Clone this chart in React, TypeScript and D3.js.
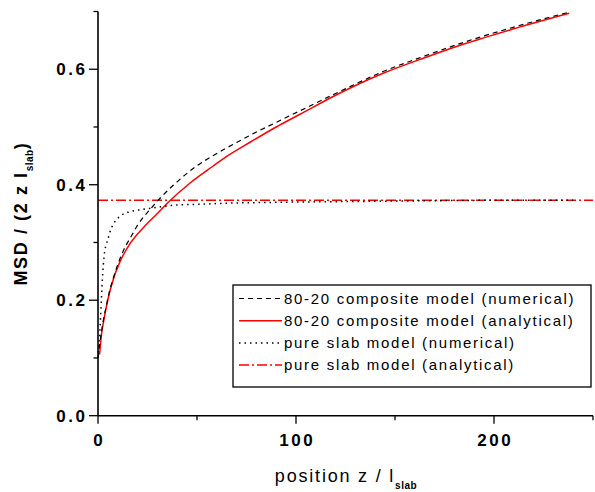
import * as d3 from "d3"

// 80-20 composite model (numerical)
const compNumZ = [0, 0.9, 2.7, 4.5, 6, 7.7, 10, 12.7, 17, 20, 26, 32, 38, 44, 50, 57, 63, 70, 77, 90, 102, 120, 144, 165, 186, 210, 238]
const compNumY = [0.1, 0.125, 0.165, 0.195, 0.218, 0.238, 0.262, 0.285, 0.312, 0.33, 0.356, 0.379, 0.399, 0.417, 0.433, 0.448, 0.46, 0.473, 0.486, 0.508, 0.528, 0.558, 0.596, 0.623, 0.648, 0.673, 0.699]

// 80-20 composite model (analytical)
const compAnaZ = [0.8, 1.2, 1.7, 2.5, 3.4, 5.1, 7.7, 11, 16, 23, 29.6, 35, 46.5, 58, 65, 77, 90, 102, 120, 144, 165, 186, 210, 238]
const compAnaY = [0.106, 0.122, 0.139, 0.157, 0.174, 0.203, 0.236, 0.266, 0.297, 0.326, 0.349, 0.368, 0.403, 0.432, 0.449, 0.474, 0.5, 0.522, 0.555, 0.593, 0.62, 0.645, 0.67, 0.697]

// pure slab model (numerical)
const slabNumZ = [0, 0.5, 0.9, 1.3, 1.7, 2.2, 2.7, 3.4, 4.2, 5.1, 6, 8, 11.8, 16, 20, 26, 32, 40, 50, 65, 80, 100, 130, 160, 200, 240]
const slabNumY = [0.1, 0.125, 0.145, 0.17, 0.2, 0.235, 0.262, 0.285, 0.297, 0.307, 0.318, 0.333, 0.347, 0.353, 0.356, 0.359, 0.362, 0.365, 0.366, 0.368, 0.369, 0.37, 0.371, 0.372, 0.373, 0.373]

// pure slab model (analytical)
const slabAnaZ = [0, 250]
const slabAnaY = [0.373, 0.373]

const xMajor = [0, 100, 200]
const xMinor = [50, 150, 250]
const yMajor = [0, 0.2, 0.4, 0.6]
const yMinor = [0.1, 0.3, 0.5, 0.7]

const legendLabels = [
    "80-20 composite model (numerical)",
    "80-20 composite model (analytical)",
    "pure slab model (numerical)",
    "pure slab model (analytical)",
]

const FONT = "'Liberation Sans', Arial, Helvetica, sans-serif"

const styles = [
    { stroke: "#000", dash: "5,4", width: 1.2 },
    { stroke: "#ff0000", dash: null, width: 1.5 },
    { stroke: "#000", dash: "1.5,4", width: 1.5 },
    { stroke: "#ff0000", dash: "10,3,2,3", width: 1.5 },
]

export default function App() {
    const width = 595
    const height = 492
    const x = d3.scaleLinear().domain([0, 250]).range([98, 593])
    const y = d3.scaleLinear().domain([0, 0.7]).range([415.7, 11.5])
    const x0 = x(0)
    const y0 = y(0)

    const line = d3.line<[number, number]>()
        .x(d => x(d[0]))
        .y(d => y(d[1]))
        .curve(d3.curveMonotoneX)

    const zip = (a: number[], b: number[]) => a.map((v, i) => [v, b[i]] as [number, number])
    const series = [
        zip(compNumZ, compNumY),
        zip(compAnaZ, compAnaY),
        zip(slabNumZ, slabNumY),
        zip(slabAnaZ, slabAnaY),
    ]
    // red drawn first, black on top
    const order = [1, 3, 0, 2]
    const fmtY = d3.format(".1f")

    const lg = { x: 233, y: 285, w: 358, h: 102 }
    const rowY = (i: number) => lg.y + 13.5 + i * 22.2

    return (
        <svg width={width} height={height}
            style={{ position: "absolute", left: 0, top: 0, background: "#fff" }}
            fontFamily={FONT}>
            {order.map(i => (
                <path key={i} d={line(series[i]) ?? ""} fill="none"
                    stroke={styles[i].stroke} strokeWidth={styles[i].width}
                    strokeDasharray={styles[i].dash ?? undefined} />
            ))}

            {/* axes */}
            <line x1={x0} x2={x0} y1={y(0.7)} y2={y0} stroke="#000" strokeWidth={1.6} />
            <line x1={x0} x2={x(250)} y1={y0} y2={y0} stroke="#000" strokeWidth={1.6} />
            {xMajor.map(v => (
                <g key={"xm" + v}>
                    <line x1={x(v)} x2={x(v)} y1={y0} y2={y0 + 8} stroke="#000" strokeWidth={1.3} />
                    <text x={x(v)} y={y0 + 30} dx={1.25} textAnchor="middle" fontSize={17}
                        fontWeight="bold" letterSpacing={2.5}>{v}</text>
                </g>
            ))}
            {xMinor.map(v => (
                <line key={"xn" + v} x1={x(v)} x2={x(v)} y1={y0} y2={y0 + 4.5} stroke="#000" strokeWidth={1.3} />
            ))}
            {yMajor.map(v => (
                <g key={"ym" + v}>
                    <line x1={x0 - 9} x2={x0} y1={y(v)} y2={y(v)} stroke="#000" strokeWidth={1.3} />
                    <text x={x0 - 13} y={y(v) + 6} dx={2.5} textAnchor="end" fontSize={17}
                        fontWeight="bold" letterSpacing={2.5}>{fmtY(v)}</text>
                </g>
            ))}
            {yMinor.map(v => (
                <line key={"yn" + v} x1={x0 - 4.5} x2={x0} y1={y(v)} y2={y(v)} stroke="#000" strokeWidth={1.3} />
            ))}

            {/* axis titles */}
            <text x={346} y={482} textAnchor="middle" fontSize={18} letterSpacing={1.8}>
                position z / l
                <tspan fontSize={10} fontWeight="bold" dy={7} letterSpacing={0.5}>slab</tspan>
            </text>
            <text transform={`translate(27,${(y(0.7) + y0) / 2}) rotate(-90)`} textAnchor="middle"
                fontSize={18} fontWeight="bold" letterSpacing={1.6}>
                MSD / (2 z l
                <tspan fontSize={10} dy={6} letterSpacing={0.5}>slab</tspan>
                <tspan dy={-6}>)</tspan>
            </text>

            {/* legend */}
            <rect x={lg.x} y={lg.y} width={lg.w} height={lg.h} fill="#fff" stroke="#000" strokeWidth={1.3} />
            {legendLabels.map((label, i) => (
                <g key={label}>
                    <line x1={lg.x + 6} x2={lg.x + 49} y1={rowY(i)} y2={rowY(i)}
                        stroke={styles[i].stroke} strokeWidth={styles[i].width}
                        strokeDasharray={styles[i].dash ?? undefined} />
                    <text x={lg.x + 51} y={rowY(i) + 5} fontSize={15} letterSpacing={1.7}>{label}</text>
                </g>
            ))}
        </svg>
    )
}
